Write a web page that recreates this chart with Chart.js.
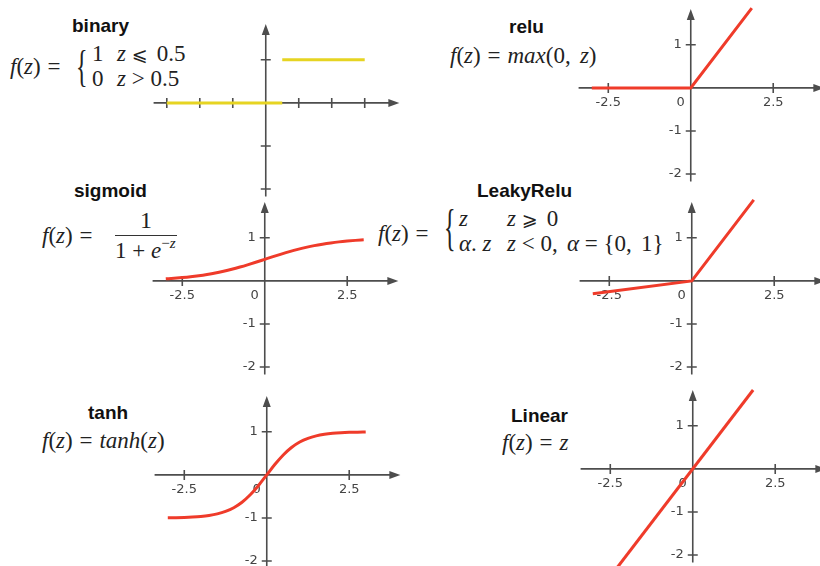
<!DOCTYPE html>
<html>
<head>
<meta charset="utf-8">
<script src="https://cdn.jsdelivr.net/npm/chart.js@4.4.1/dist/chart.umd.min.js"></script>
<style>
  body { margin: 0; width: 820px; height: 566px; overflow: hidden; background: #fff; position: relative; }
  canvas { position: absolute; }
  .title { position: absolute; font: bold 19px "Liberation Sans", Arial, sans-serif; color: #111; line-height: 1; white-space: nowrap; }
  .math { position: absolute; font: 23px "Liberation Serif", "DejaVu Serif", "DejaVu Sans", serif; color: #222; line-height: 1; white-space: nowrap; }
  .math i { font-style: italic; }
  .eq { margin: 0 0.3em; }
  .sp { display: inline-block; width: 0.4em; }
  .rel { font-size: 19px; }
  .brace { position: absolute; font: 24px "Liberation Serif", serif; color: #222; line-height: 24px; transform-origin: 0 0; }
  .bar { position: absolute; height: 1px; background: #333; }
  .sup { font-size: 15px; position: relative; top: -10px; }
</style>
</head>
<body>

<div class="title" style="left:72px;top:16px">binary</div>
<div class="math" style="left:10px;top:55px"><i>f</i>(<i>z</i>)<span class="eq">=</span></div>
<div class="brace" style="left:76px;top:44px;transform:scale(1,1.85)">{</div>
<div class="math" style="left:92px;top:42px">1</div>
<div class="math" style="left:117px;top:42px"><i>z</i> <span class="rel">&#10877;</span><span class="sp"></span>0.5</div>
<div class="math" style="left:92px;top:67px">0</div>
<div class="math" style="left:117px;top:67px"><i>z</i> &gt; 0.5</div>

<div class="title" style="left:509px;top:17px">relu</div>
<div class="math" style="left:450px;top:44px"><i>f</i>(<i>z</i>)<span class="eq">=</span><i>max</i>(0,<span class="sp"></span><i>z</i>)</div>

<div class="title" style="left:74px;top:181px">sigmoid</div>
<div class="math" style="left:42px;top:224px"><i>f</i>(<i>z</i>)<span class="eq">=</span></div>
<div class="math" style="left:140px;top:208px;font-size:24px">1</div>
<div class="bar" style="left:115px;top:235px;width:62px"></div>
<div class="math" style="left:115px;top:239px">1 + <i>e</i><span class="sup">&#8722;<i>z</i></span></div>

<div class="title" style="left:477px;top:181px">LeakyRelu</div>
<div class="math" style="left:378px;top:222px"><i>f</i>(<i>z</i>)<span class="eq">=</span></div>
<div class="brace" style="left:444px;top:202px;transform:scale(1,2.1)">{</div>
<div class="math" style="left:459px;top:207px"><i>z</i></div>
<div class="math" style="left:507px;top:207px"><i>z</i> <span class="rel">&#10878;</span><span class="sp"></span>0</div>
<div class="math" style="left:459px;top:232px"><i>&alpha;</i>. <i>z</i></div>
<div class="math" style="left:507px;top:232px"><i>z</i> &lt; 0,<span class="sp"></span><i>&alpha;</i> = {0,<span class="sp"></span>1}</div>

<div class="title" style="left:88px;top:403px">tanh</div>
<div class="math" style="left:42px;top:429px"><i>f</i>(<i>z</i>)<span class="eq">=</span><i>tanh</i>(<i>z</i>)</div>

<div class="title" style="left:511px;top:406px">Linear</div>
<div class="math" style="left:502px;top:431px"><i>f</i>(<i>z</i>)<span class="eq">=</span><i>z</i></div>

<canvas id="binary" width="254" height="181" style="left:147px;top:21px"></canvas>
<canvas id="relu" width="254" height="181" style="left:572px;top:6px"></canvas>
<canvas id="sigmoid" width="254" height="181" style="left:146px;top:199px"></canvas>
<canvas id="leaky" width="254" height="181" style="left:573px;top:199px"></canvas>
<canvas id="tanh" width="254" height="181" style="left:148px;top:393px"></canvas>
<canvas id="linear" width="254" height="181" style="left:574px;top:387px"></canvas>

<script>
// values
const zSteps = [-3, -2.75, -2.5, -2.25, -2, -1.75, -1.5, -1.25, -1, -0.75, -0.5, -0.25, 0,
                0.25, 0.5, 0.75, 1, 1.25, 1.5, 1.75, 2, 2.25, 2.5, 2.75, 3];
const sigmoidVals = [0.047, 0.06, 0.076, 0.095, 0.119, 0.148, 0.182, 0.223, 0.269, 0.321, 0.378, 0.438, 0.5,
                     0.562, 0.622, 0.679, 0.731, 0.777, 0.818, 0.852, 0.881, 0.905, 0.924, 0.94, 0.953];
const tanhVals = [-0.995, -0.992, -0.987, -0.978, -0.964, -0.941, -0.905, -0.848, -0.762, -0.635, -0.462, -0.245, 0,
                  0.245, 0.462, 0.635, 0.762, 0.848, 0.905, 0.941, 0.964, 0.978, 0.987, 0.992, 0.995];

const binaryLowZ = [-3, 0.5];
const binaryLowVals = [0, 0];
const binaryHighZ = [0.5, 3];
const binaryHighVals = [1, 1];

const reluZ = [-3, 0, 1.85];
const reluVals = [0, 0, 1.85];

const leakyZ = [-3, 0, 1.88];
const leakyVals = [-0.3, 0, 1.88];

const linearZ = [-2.3, 1.83];
const linearVals = [-2.3, 1.83];

const xTicks = [-2.5, 2.5];
const xTickLabels = ['-2.5', '2.5'];
const yTicks = [1, -1, -2];
const yTickLabels = ['1', '-1', '-2'];
const binaryXTicks = [-3, -2, -1, 1, 2, 3];

const axisXRange = [-3.4, 4.05];
const axisYRange = [-2.17, 1.83];

const red = '#ef3b2a';
const yellow = '#e6d422';
const axisColor = '#4d4d4d';

function points(zs, vals) {
  return zs.map((z, i) => ({ x: z, y: vals[i] }));
}

// draws the arrowed axes through the origin, ticks and tick labels
const arrowAxes = {
  id: 'arrowAxes',
  beforeDatasetsDraw(chart, args, opts) {
    const ctx = chart.ctx;
    const xs = chart.scales.x, ys = chart.scales.y;
    const x0 = xs.getPixelForValue(0), y0 = ys.getPixelForValue(0);
    const xl = xs.getPixelForValue(axisXRange[0]), xr = xs.getPixelForValue(axisXRange[1]);
    const yb = ys.getPixelForValue(axisYRange[0]), yt = ys.getPixelForValue(axisYRange[1]);
    ctx.save();
    ctx.strokeStyle = axisColor;
    ctx.fillStyle = axisColor;
    ctx.lineWidth = 1.6;
    ctx.beginPath();
    ctx.moveTo(xl, y0); ctx.lineTo(xr - 8, y0);
    ctx.moveTo(x0, yb); ctx.lineTo(x0, yt + 8);
    opts.xTicks.forEach(v => {
      const px = xs.getPixelForValue(v);
      ctx.moveTo(px, y0 - 5); ctx.lineTo(px, y0 + 5);
    });
    opts.yTicks.forEach(v => {
      const py = ys.getPixelForValue(v);
      ctx.moveTo(x0 - 5, py); ctx.lineTo(x0 + 5, py);
    });
    ctx.stroke();
    // arrow heads
    ctx.beginPath();
    ctx.moveTo(xr, y0); ctx.lineTo(xr - 11, y0 - 4); ctx.lineTo(xr - 11, y0 + 4); ctx.closePath();
    ctx.moveTo(x0, yt); ctx.lineTo(x0 - 4, yt + 11); ctx.lineTo(x0 + 4, yt + 11); ctx.closePath();
    ctx.fill();
    if (opts.labels) {
      ctx.fillStyle = '#444';
      ctx.font = '13px "DejaVu Sans", Verdana, sans-serif';
      ctx.textBaseline = 'middle';
      ctx.textAlign = 'center';
      opts.xTicks.forEach((v, i) => ctx.fillText(opts.xLabels[i], xs.getPixelForValue(v), y0 + 15));
      ctx.fillText('0', x0 - 10, y0 + 15);
      ctx.textAlign = 'right';
      opts.yTicks.forEach((v, i) => ctx.fillText(opts.yLabels[i], x0 - 9, ys.getPixelForValue(v)));
    }
    ctx.restore();
  }
};

function makeChart(id, datasets, tickX, labels) {
  return new Chart(document.getElementById(id), {
    type: 'line',
    data: { datasets: datasets },
    options: {
      responsive: false,
      animation: false,
      layout: { padding: 0 },
      elements: { point: { radius: 0 }, line: { borderWidth: 3 } },
      plugins: {
        legend: { display: false },
        tooltip: { enabled: false },
        arrowAxes: { xTicks: tickX, yTicks: yTicks, labels: labels, xLabels: xTickLabels, yLabels: yTickLabels }
      },
      scales: {
        x: { type: 'linear', min: -3.6, max: 4.1, display: false },
        y: { type: 'linear', min: -2.3, max: 1.9, display: false }
      }
    },
    plugins: [arrowAxes]
  });
}

makeChart('binary', [
  { data: points(binaryLowZ, binaryLowVals), borderColor: yellow },
  { data: points(binaryHighZ, binaryHighVals), borderColor: yellow }
], binaryXTicks, false);

makeChart('relu', [{ data: points(reluZ, reluVals), borderColor: red }], xTicks, true);

makeChart('sigmoid', [{ data: points(zSteps, sigmoidVals), borderColor: red, cubicInterpolationMode: 'monotone' }], xTicks, true);

makeChart('leaky', [{ data: points(leakyZ, leakyVals), borderColor: red }], xTicks, true);

makeChart('tanh', [{ data: points(zSteps, tanhVals), borderColor: red, cubicInterpolationMode: 'monotone' }], xTicks, true);

makeChart('linear', [{ data: points(linearZ, linearVals), borderColor: red }], xTicks, true);
</script>
</body>
</html>
